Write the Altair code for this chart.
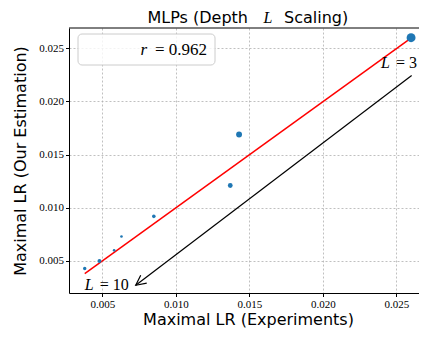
import altair as alt
import pandas as pd

# ---- data ----
exp_lr = [0.0260, 0.0143, 0.0137, 0.0085, 0.0063, 0.0058, 0.0048, 0.0038]
est_lr = [0.0260, 0.0169, 0.0121, 0.0092, 0.0073, 0.0060, 0.0050, 0.0043]
dot_size = [80, 35, 23, 13, 7, 7, 15, 12]

fit_x = [0.0038, 0.02604]
fit_y = [0.00381, 0.0260]

arrow_x = [0.02604]
arrow_y = [0.02244]
arrow_x2 = [0.00727]
arrow_y2 = [0.00272]

label_x = [0.02395, 0.003796]
label_y = [0.02366, 0.00275]
label_rest = ["= 3", "= 10"]

x_ticks = [0.005, 0.010, 0.015, 0.020, 0.025]
y_ticks = [0.005, 0.010, 0.015, 0.020, 0.025]

title_parts = ["MLPs (Depth", "L", "Scaling)"]
r_text = "= 0.962"

W, H = 350, 265

pts = pd.DataFrame({"exp": exp_lr, "est": est_lr, "size": dot_size})
fit = pd.DataFrame({"exp": fit_x, "est": fit_y})
arr = pd.DataFrame({"x": arrow_x, "y": arrow_y, "x2": arrow_x2, "y2": arrow_y2})
lab = pd.DataFrame({"x": label_x, "y": label_y, "rest": label_rest})
one = pd.DataFrame({"a": [0]})

xs = alt.Scale(domain=[0.00273, 0.02654], nice=False, zero=False)
ys = alt.Scale(domain=[0.00199, 0.02691], nice=False, zero=False)

points = alt.Chart(pts).mark_circle(color="#1f77b4", opacity=1).encode(
    x=alt.X("exp:Q", scale=xs, title="Maximal LR (Experiments)",
            axis=alt.Axis(values=x_ticks, format=".3f", titlePadding=2,
                          labelPadding=2, titleX=179, titleAlign="center")),
    y=alt.Y("est:Q", scale=ys, title="Maximal LR (Our Estimation)",
            axis=alt.Axis(values=y_ticks, format=".3f", titlePadding=10, labelPadding=2)),
    size=alt.Size("size:Q", scale=None, legend=None),
)

line = alt.Chart(fit).mark_line(color="red", strokeWidth=1.5).encode(
    x=alt.X("exp:Q", scale=xs),
    y=alt.Y("est:Q", scale=ys),
)

arrow_line = alt.Chart(arr).mark_rule(color="black", strokeWidth=1.2).encode(
    x=alt.X("x:Q", scale=xs), y=alt.Y("y:Q", scale=ys),
    x2="x2:Q", y2="y2:Q",
)

arrow_head = alt.Chart(arr).mark_point(
    shape="M -1,-0.5 L 0,0 L -1,0.5", filled=False, stroke="black",
    strokeWidth=1.2, size=400, angle=143, opacity=1,
).encode(x=alt.X("x2:Q", scale=xs), y=alt.Y("y2:Q", scale=ys))

lab_L = alt.Chart(lab).mark_text(
    text="L", font="Liberation Serif", fontStyle="italic", fontSize=16,
    align="left", baseline="middle", color="black",
).encode(x=alt.X("x:Q", scale=xs), y=alt.Y("y:Q", scale=ys))

lab_rest = alt.Chart(lab).mark_text(
    font="Liberation Serif", fontSize=16, align="left", baseline="middle",
    color="black", dx=15,
).encode(x=alt.X("x:Q", scale=xs), y=alt.Y("y:Q", scale=ys), text="rest:N")

legend_box = alt.Chart(one).mark_rect(
    fill="white", fillOpacity=0.8, stroke="#cccccc", strokeWidth=1, cornerRadius=4,
).encode(x=alt.value(9), x2=alt.value(146), y=alt.value(6), y2=alt.value(37))

legend_r = alt.Chart(one).mark_text(
    text="r", font="Liberation Serif", fontStyle="italic", fontSize=17,
    align="right", baseline="middle", color="black",
).encode(x=alt.value(78), y=alt.value(22))

legend_val = alt.Chart(one).mark_text(
    text=r_text, font="Liberation Serif", fontSize=17,
    align="right", baseline="middle", color="black",
).encode(x=alt.value(138), y=alt.value(22))

top_frame = alt.Chart(one).mark_rule(color="black", strokeWidth=1).encode(
    x=alt.value(0), x2=alt.value(W), y=alt.value(0)
)

title_a = alt.Chart(one).mark_text(
    text=title_parts[0], font="DejaVu Sans", fontSize=16, align="right",
    baseline="alphabetic", color="black",
).encode(x=alt.value(179), y=alt.value(-5))
title_b = alt.Chart(one).mark_text(
    text=title_parts[1], font="Liberation Serif", fontStyle="italic", fontSize=16,
    align="center", baseline="alphabetic", color="black",
).encode(x=alt.value(199), y=alt.value(-5))
title_c = alt.Chart(one).mark_text(
    text=title_parts[2], font="DejaVu Sans", fontSize=16, align="left",
    baseline="alphabetic", color="black",
).encode(x=alt.value(215), y=alt.value(-5))

chart = alt.layer(
    line, arrow_line, arrow_head, points, lab_L, lab_rest,
    legend_box, legend_r, legend_val, top_frame, title_a, title_b, title_c,
).properties(
    width=W, height=H,
    autosize=alt.AutoSizeParams(type="none"),
    padding={"left": 61, "top": 20, "right": 0, "bottom": 36},
).configure_view(
    stroke=None,
).configure_axis(
    grid=True, gridColor="#b0b0b0", gridDash=[2, 2], gridWidth=0.8,
    domain=True, domainColor="black", domainWidth=1,
    tickColor="black", tickSize=3.5, tickWidth=1,
    labelFont="Liberation Serif", labelFontSize=11, labelColor="black",
    titleFont="DejaVu Sans", titleFontSize=16, titleFontWeight="normal", titleColor="black",
)

chart.save("out.html", embed_options={"renderer": "svg", "actions": False})
